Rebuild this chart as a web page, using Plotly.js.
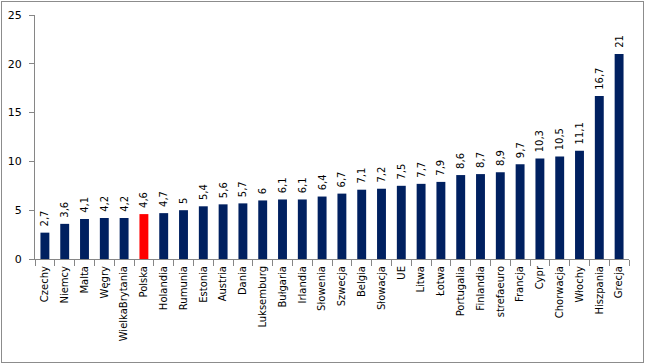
<!DOCTYPE html>
<html><head><meta charset="utf-8">
<script src="https://cdn.plot.ly/plotly-3.0.1.min.js"></script>
<style>body{margin:0;padding:0;background:#fff}#wrap{position:relative;width:645px;height:364px}#chart{width:645px;height:364px}#frame{position:absolute;left:1px;top:1px;width:641px;height:360px;border:1px solid #8c8c8c;pointer-events:none}</style>
</head><body>
<div id="wrap"><div id="chart"></div><div id="frame"></div></div>
<script>
const categories = ["Czechy","Niemcy","Malta","Węgry","WielkaBrytania","Polska","Holandia","Rumunia","Estonia","Austria","Dania","Luksemburg","Bułgaria","Irlandia","Słowenia","Szwecja","Belgia","Słowacja","UE","Litwa","Łotwa","Portugalia","Finlandia","strefaeuro","Francja","Cypr","Chorwacja","Włochy","Hiszpania","Grecja"];
const values = [2.7,3.6,4.1,4.2,4.2,4.6,4.7,5,5.4,5.6,5.7,6,6.1,6.1,6.4,6.7,7.1,7.2,7.5,7.7,7.9,8.6,8.7,8.9,9.7,10.3,10.5,11.1,16.7,21];
const highlight = "Polska";
const yTicks = [0,5,10,15,20,25];

const colors = categories.map(c => c === highlight ? "#FF0000" : "#002060");
const labels = values.map(v => "\u00a0" + String(v).replace(".", ","));

Plotly.newPlot("chart", [{
  type: "bar",
  x: categories,
  y: values,
  marker: {color: colors},
  text: labels,
  textposition: "outside",
  textangle: -90,
  constraintext: "none",
  cliponaxis: false,
  textfont: {family: "DejaVu Sans", size: 10, color: "#000"},
  hoverinfo: "none"
}], {
  width: 645, height: 364,
  margin: {l: 35, r: 16, t: 15, b: 105},
  paper_bgcolor: "#fff", plot_bgcolor: "#fff",
  bargap: 0.55,
  showlegend: false,
  font: {family: "DejaVu Sans", size: 10, color: "#000"},
  xaxis: {
    type: "category",
    tickangle: -90,
    tickson: "boundaries",
    ticks: "outside", ticklen: 6, tickcolor: "#868686",
    showline: true, linecolor: "#868686", linewidth: 1,
    showgrid: false, zeroline: false,
    ticklabelstandoff: 2,
    tickfont: {family: "DejaVu Sans", size: 10, color: "#000"}
  },
  yaxis: {
    range: [0, 25],
    tickvals: yTicks,
    ticks: "outside", ticklen: 5, tickcolor: "#868686",
    showline: true, linecolor: "#868686", linewidth: 1,
    showgrid: false, zeroline: false,
    ticklabelstandoff: 5,
    tickfont: {family: "DejaVu Sans", size: 11, color: "#000"}
  }
}, {staticPlot: true});
</script>
</body></html>
